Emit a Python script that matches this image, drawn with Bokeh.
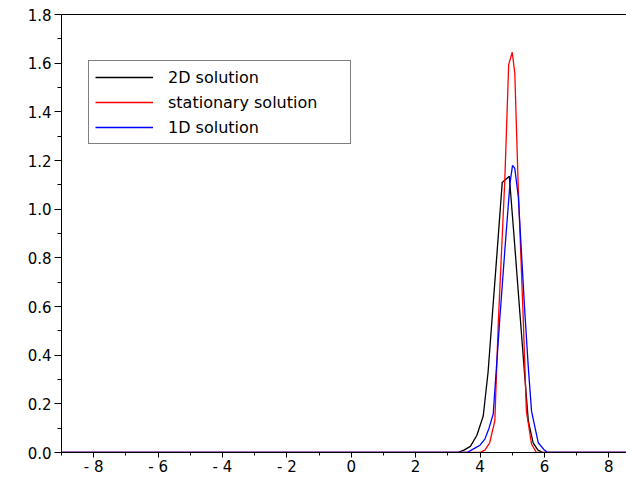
from bokeh.plotting import figure
from bokeh.models import FixedTicker, LinearAxis, Range1d
from bokeh.embed import file_html
from bokeh.resources import INLINE

# ---- data ----
x_2d = [-9.0, 3.3, 3.5, 3.7, 3.9, 4.1, 4.25, 4.38, 4.5, 4.69, 4.91, 5.05, 5.24, 5.38, 5.5, 5.65, 5.8, 5.95, 9.0]
y_2d = [0.0, 0.0, 0.01, 0.025, 0.07, 0.15, 0.33, 0.56, 0.77, 1.11, 1.135, 0.9, 0.57, 0.33, 0.13, 0.04, 0.01, 0.0, 0.0]

x_stat = [-9.0, 4.0, 4.15, 4.3, 4.46, 4.57, 4.67, 4.77, 4.89, 5.0, 5.08, 5.19, 5.34, 5.44, 5.6, 5.75, 9.0]
y_stat = [0.0, 0.0, 0.01, 0.04, 0.13, 0.54, 0.83, 1.12, 1.594, 1.645, 1.56, 1.08, 0.56, 0.17, 0.035, 0.0, 0.0]

x_1d = [-9.0, 3.6, 3.84, 4.0, 4.15, 4.28, 4.41, 4.62, 4.77, 4.93, 5.01, 5.08, 5.19, 5.39, 5.5, 5.6, 5.81, 6.0, 6.1, 9.0]
y_1d = [0.0, 0.0, 0.018, 0.03, 0.055, 0.1, 0.158, 0.56, 0.83, 1.106, 1.18, 1.168, 1.05, 0.58, 0.35, 0.17, 0.04, 0.01, 0.0, 0.0]

series_names = ["2D solution", "stationary solution", "1D solution"]
series_colors = ["#000000", "#ff0000", "#0000ff"]

x_major = [-8, -6, -4, -2, 0, 2, 4, 6, 8]
x_major_labels = ["- 8", "- 6", "- 4", "- 2", "0", "2", "4", "6", "8"]
x_minor = [-9, -7, -5, -3, -1, 1, 3, 5, 7, 9]
y_major = [0.0, 0.2, 0.4, 0.6, 0.8, 1.0, 1.2, 1.4, 1.6, 1.8]
y_major_labels = ["0.0", "0.2", "0.4", "0.6", "0.8", "1.0", "1.2", "1.4", "1.6", "1.8"]
y_minor = [0.1, 0.3, 0.5, 0.7, 0.9, 1.1, 1.3, 1.5, 1.7]

FONT = "DejaVu Sans"

p = figure(width=626, height=478, output_backend="svg", toolbar_location=None,
           x_range=Range1d(-9, 8.55), y_range=Range1d(0, 1.8),
           x_axis_location=None, y_axis_location=None,
           min_border_left=61, min_border_right=0, min_border_top=14, min_border_bottom=25)
p.outline_line_color = None
p.xgrid.visible = False
p.ygrid.visible = False
p.background_fill_color = "white"
p.border_fill_color = "white"

xa = LinearAxis(ticker=FixedTicker(ticks=x_major, minor_ticks=x_minor),
                major_label_overrides={t: l for t, l in zip(x_major, x_major_labels)})
xa.major_tick_in = 0
xa.major_tick_out = 5
xa.minor_tick_in = 0
xa.minor_tick_out = 3
xa.major_label_standoff = 0
xa.major_label_text_font = FONT
xa.major_label_text_font_size = "15px"
xa.major_label_text_color = "black"
xa.axis_line_color = "black"
xa.major_tick_line_color = "black"
xa.minor_tick_line_color = "black"
p.add_layout(xa, "below")

ya = LinearAxis(ticker=FixedTicker(ticks=y_major, minor_ticks=y_minor),
                major_label_overrides={t: l for t, l in zip(y_major, y_major_labels)})
ya.major_tick_in = 0
ya.major_tick_out = 7
ya.minor_tick_in = 0
ya.minor_tick_out = 4
ya.major_label_standoff = 3
ya.major_label_text_font = FONT
ya.major_label_text_font_size = "15px"
ya.major_label_text_color = "black"
ya.axis_line_color = "black"
ya.major_tick_line_color = "black"
ya.minor_tick_line_color = "black"
p.add_layout(ya, "left")

top = LinearAxis(ticker=FixedTicker(ticks=[]))
top.major_tick_in = 0
top.major_tick_out = 0
top.minor_tick_in = 0
top.minor_tick_out = 0
top.major_label_standoff = 0
top.major_label_text_font_size = "0px"
top.axis_line_color = "black"
p.add_layout(top, "above")

for xs, ys, c, n in zip([x_2d, x_stat, x_1d], [y_2d, y_stat, y_1d], series_colors, series_names):
    p.line(xs, ys, line_color=c, line_width=1.3, legend_label=n)

legend = p.legend[0]
legend.location = (27, 308)
legend.margin = 0
legend.padding = 6
legend.spacing = 5
legend.glyph_width = 58
legend.glyph_height = 20
legend.label_height = 20
legend.label_width = 176
legend.label_standoff = 15
legend.label_text_font = FONT
legend.label_text_font_size = "16px"
legend.label_text_color = "black"
legend.border_line_color = "black"
legend.border_line_width = 1
legend.background_fill_color = "white"
legend.background_fill_alpha = 1.0

open("out.html", "w").write(file_html(p, INLINE))
